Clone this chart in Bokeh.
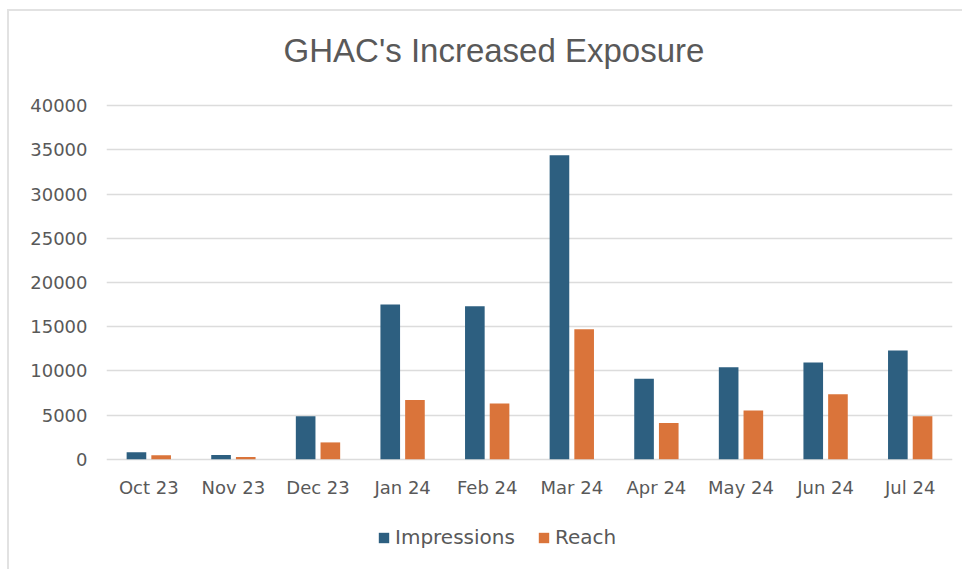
from bokeh.plotting import figure
from bokeh.models import ColumnDataSource, FactorRange, Range1d, Legend, LegendItem, FixedTicker, Label
from bokeh.core.properties import value
from bokeh.transform import dodge
from bokeh.embed import file_html
from bokeh.resources import INLINE

months = ["Oct 23", "Nov 23", "Dec 23", "Jan 24", "Feb 24", "Mar 24", "Apr 24", "May 24", "Jun 24", "Jul 24"]
impressions = [800, 480, 4850, 17500, 17300, 34400, 9100, 10400, 10950, 12300]
reach = [450, 260, 1900, 6700, 6300, 14700, 4100, 5500, 7350, 4850]
y_ticks = [0, 5000, 10000, 15000, 20000, 25000, 30000, 35000, 40000]
title_text = "GHAC's Increased Exposure"

src = ColumnDataSource(data=dict(month=months, impressions=impressions, reach=reach))

p = figure(
    width=955, height=560,
    x_range=FactorRange(*months, range_padding=0),
    y_range=Range1d(-12711, 50673),
    output_backend="svg", toolbar_location=None,
    min_border_left=97, min_border_right=12, min_border_top=0, min_border_bottom=0,
)
p.title.visible = False
p.margin = (9, 0, 0, 7)
p.styles = {"border-top": "2px solid #e2e2e2", "border-left": "2px solid #e2e2e2"}
p.outline_line_color = None
p.background_fill_color = "white"
p.border_fill_color = "white"

imp_color = "#2D5F80"
reach_color = "#DA743A"
text_color = "#595959"

r1 = p.vbar(x=dodge("month", -0.146, range=p.x_range), top="impressions", width=0.232,
            source=src, fill_color=imp_color, line_color=None)
r2 = p.vbar(x=dodge("month", 0.146, range=p.x_range), top="reach", width=0.232,
            source=src, fill_color=reach_color, line_color=None)

# category labels under the zero line
p.text(x="month", y=-3200, text="month", source=src,
       text_font=value("DejaVu Sans"), text_font_size="18px", text_color=text_color,
       text_align="center", text_baseline="middle")

p.xaxis.visible = False
p.xgrid.grid_line_color = None
p.ygrid.grid_line_color = "#dcdcdc"
p.ygrid.grid_line_width = 1.6
p.yaxis.ticker = FixedTicker(ticks=y_ticks)

ax = p.yaxis[0]
ax.axis_line_color = None
ax.major_tick_line_color = None
ax.minor_tick_line_color = None
ax.major_tick_in = 0
ax.major_tick_out = 0
ax.minor_tick_in = 0
ax.minor_tick_out = 0
ax.major_label_text_font = "DejaVu Sans"
ax.major_label_text_font_size = "18px"
ax.major_label_text_color = text_color
ax.major_label_standoff = 19

title = Label(x=387.5, y=521, x_units="screen", y_units="screen", text=title_text,
              text_align="center", text_baseline="middle",
              text_font="Liberation Sans", text_font_size="33px", text_color=text_color)
p.add_layout(title)

legend = Legend(items=[LegendItem(label="Impressions", renderers=[r1]),
                       LegendItem(label="Reach", renderers=[r2])],
                location=(271, 22), orientation="horizontal",
                glyph_width=13, glyph_height=13, label_standoff=5, spacing=22,
                padding=0, margin=0, label_height=20,
                label_text_font="DejaVu Sans", label_text_font_size="20px",
                label_text_color=text_color, label_text_baseline="middle",
                border_line_color=None, background_fill_alpha=0)
p.add_layout(legend)

open("out.html", "w").write(file_html(p, INLINE))
